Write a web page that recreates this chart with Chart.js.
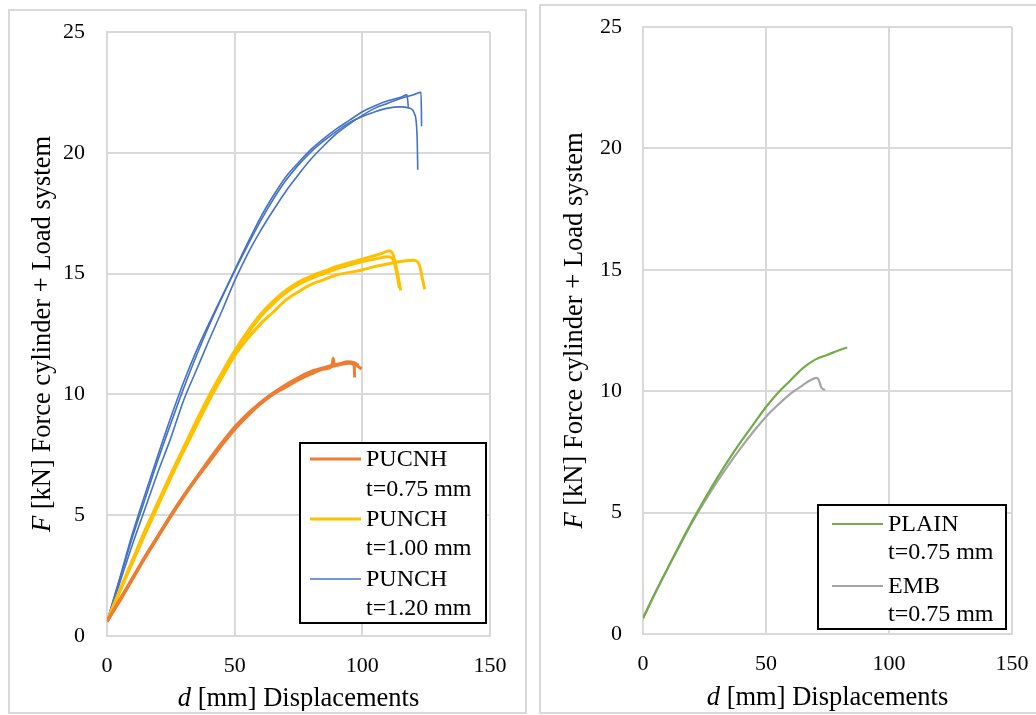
<!DOCTYPE html>
<html>
<head>
<meta charset="utf-8">
<script src="https://cdn.jsdelivr.net/npm/chart.js@4.4.1/dist/chart.umd.min.js"></script>
<style>
  html, body { margin: 0; padding: 0; background: #fff; width: 1036px; height: 715px; overflow: hidden; position: relative; }
  .panel { position: absolute; box-sizing: border-box; border: 2px solid #d9d9d9; background: #fff; }
  canvas { position: absolute; }
</style>
</head>
<body>
<div class="panel" style="left:8px;top:9px;width:519px;height:705px"></div>
<div class="panel" style="left:539px;top:4px;width:510px;height:710px"></div>
<canvas id="chartPunched" width="514" height="700" style="left:10px;top:11px;width:514px;height:700px"></canvas>
<canvas id="chartPlain" width="494" height="705" style="left:542px;top:6px;width:494px;height:705px"></canvas>
<script>
// ---- Axis ticks ----
const xTicks = [0, 50, 100, 150];
const yTicks = [0, 5, 10, 15, 20, 25];

// ---- Series labels ----
const leftLabels = [['PUCNH', 't=0.75 mm'], ['PUNCH', 't=1.00 mm'], ['PUNCH', 't=1.20 mm']];
const rightLabels = [['PLAIN', 't=0.75 mm'], ['EMB', 't=0.75 mm']];

// ---- PUCNH t=0.75 mm (three specimens): displacement [mm], force [kN] ----
const pucnh1D = [0,5,10,15,20,25,30,35,40,45,50,55,60,65,70,75,80,85,88,90,93,95,97,99.7];
const pucnh1F = [0.6,1.5,2.4,3.3,4.15,5.0,5.8,6.55,7.25,7.95,8.6,9.15,9.65,10.05,10.35,10.65,10.9,11.1,11.2,11.25,11.3,11.3,11.25,11.05];
const pucnh2D = [0,5,10,15,20,25,30,35,40,45,50,55,60,65,70,75,80,85,88,88.6,89,92,95,96.8,97];
const pucnh2F = [0.6,1.45,2.35,3.25,4.1,4.95,5.75,6.5,7.2,7.9,8.55,9.1,9.6,10.0,10.3,10.6,10.85,11.05,11.15,11.5,11.2,11.25,11.3,11.2,10.7];
const pucnh3D = [0,5,10,15,20,25,30,35,40,45,50,55,60,65,70,75,80,85,90,94,97,98.5];
const pucnh3F = [0.6,1.5,2.4,3.3,4.15,5.0,5.8,6.55,7.3,8.0,8.65,9.2,9.65,10.05,10.4,10.7,10.95,11.1,11.2,11.35,11.3,11.2];

// ---- PUNCH t=1.00 mm (three specimens) ----
const punch100aD = [0,5,10,15,20,25,30,35,40,45,50,55,60,65,70,75,80,85,90,95,100,105,108,110.5,112,113,114,115];
const punch100aF = [0.6,1.9,3.15,4.4,5.55,6.7,7.8,8.9,9.95,10.9,11.8,12.6,13.3,13.85,14.3,14.65,14.9,15.1,15.3,15.45,15.6,15.75,15.85,15.95,15.8,15.4,14.9,14.3];
const punch100bD = [0,5,10,15,20,25,30,35,40,45,50,55,60,65,70,75,80,85,90,95,100,105,110,112,113.5,114.5];
const punch100bF = [0.6,1.85,3.1,4.35,5.5,6.65,7.75,8.85,9.9,10.85,11.75,12.5,13.2,13.75,14.2,14.55,14.8,15.0,15.2,15.35,15.5,15.6,15.7,15.6,15.0,14.4];
const punch100cD = [0,5,10,15,20,25,30,35,40,45,50,55,60,65,70,75,80,85,90,95,100,105,110,115,120,121.5,122.5,123.5,124.4];
const punch100cF = [0.6,1.85,3.05,4.25,5.4,6.55,7.65,8.7,9.75,10.7,11.6,12.3,12.9,13.4,13.9,14.25,14.55,14.75,14.95,15.05,15.15,15.3,15.4,15.5,15.55,15.5,15.3,14.8,14.35];

// ---- PUNCH t=1.20 mm (three specimens) ----
const punch120aD = [0,5,10,15,20,25,30,35,40,45,50,55,60,65,70,75,80,85,90,95,100,105,110,115,117.5,118];
const punch120aF = [0.6,2.4,4.25,5.9,7.5,9.05,10.5,11.8,12.95,14.05,15.15,16.25,17.3,18.2,19.0,19.6,20.15,20.6,21.0,21.35,21.7,21.95,22.15,22.3,22.4,21.9];
const punch120bD = [0,5,10,15,20,25,30,35,40,45,50,55,60,65,70,75,80,85,90,95,100,105,110,115,120,123,123.2];
const punch120bF = [0.6,2.2,3.8,5.3,6.8,8.2,9.75,11.0,12.25,13.45,14.7,15.8,16.75,17.6,18.4,19.1,19.75,20.3,20.8,21.2,21.55,21.85,22.05,22.25,22.4,22.5,21.1];
const punch120cD = [0,5,10,15,20,25,30,35,40,45,50,55,60,65,70,75,80,85,90,95,100,105,110,115,118.5,120.5,121.5,121.7];
const punch120cF = [0.6,2.35,4.1,5.7,7.3,8.8,10.25,11.6,12.85,14.0,15.1,16.15,17.15,18.05,18.85,19.5,20.05,20.5,20.9,21.25,21.5,21.7,21.85,21.9,21.85,21.6,20.5,19.3];

// ---- PLAIN and EMB, t=0.75 mm ----
const plainD = [0,5,10,15,20,25,30,35,40,45,50,55,60,65,70,75,80,83];
const plainF = [0.65,1.7,2.7,3.7,4.65,5.55,6.4,7.2,7.95,8.65,9.35,9.95,10.45,10.95,11.3,11.5,11.7,11.8];
const embD = [0,5,10,15,20,25,30,35,40,45,50,55,60,65,68,70.5,71.5,72.5,74];
const embF = [0.65,1.7,2.7,3.65,4.6,5.45,6.25,7.0,7.7,8.35,8.95,9.45,9.9,10.25,10.45,10.55,10.45,10.15,10.05];

// ---- Colours ----
const cOrange = '#ED7D31', cYellow = '#FFC000', cBlue = '#4472C4', cGreen = '#70AD47', cGray = '#A5A5A5';
const SERIF = '"Liberation Serif", "Times New Roman", serif';

function pts(xs, ys) { return xs.map((x, i) => ({ x: x, y: ys[i] })); }
function series(xs, ys, color, width) {
  return { data: pts(xs, ys), borderColor: color, backgroundColor: color, borderWidth: width,
           showLine: true, pointRadius: 0, cubicInterpolationMode: 'monotone', fill: false };
}

// Writes a run of text pieces (some italic) centred on cx.
function drawMixed(ctx, parts, size, cx, y) {
  const fonts = parts.map(p => (p.italic ? 'italic ' : '') + size + 'px ' + SERIF);
  let total = 0;
  const widths = parts.map((p, i) => { ctx.font = fonts[i]; const w = ctx.measureText(p.text).width; total += w; return w; });
  let x = cx - total / 2;
  ctx.textAlign = 'left';
  ctx.textBaseline = 'alphabetic';
  parts.forEach((p, i) => { ctx.font = fonts[i]; ctx.fillText(p.text, x, y); x += widths[i]; });
}

// Axis titles and the boxed legend.
const panelDecor = {
  id: 'panelDecor',
  afterDraw(chart, args, opts) {
    const ctx = chart.ctx, a = chart.chartArea;
    ctx.save();
    ctx.fillStyle = '#000';
    // vertical title
    ctx.save();
    ctx.translate(opts.yTitleX, (a.top + a.bottom) / 2);
    ctx.rotate(-Math.PI / 2);
    drawMixed(ctx, [{ text: 'F', italic: true }, { text: ' [kN] Force cylinder + Load system' }], 26.5, 0, 0);
    ctx.restore();
    // horizontal title
    drawMixed(ctx, [{ text: 'd', italic: true }, { text: ' [mm] Displacements' }], 26.5, (a.left + a.right) / 2, a.bottom + opts.xTitleDy);
    // legend
    const L = opts.legend;
    ctx.fillStyle = '#fff';
    ctx.fillRect(L.x, L.y, L.w, L.h);
    ctx.strokeStyle = '#000';
    ctx.lineWidth = 2;
    ctx.strokeRect(L.x, L.y, L.w, L.h);
    L.entries.forEach((e) => {
      ctx.strokeStyle = e.color;
      ctx.lineWidth = e.width;
      ctx.beginPath();
      ctx.moveTo(L.x + L.lineX0, L.y + e.rows[0]);
      ctx.lineTo(L.x + L.lineX1, L.y + e.rows[0]);
      ctx.stroke();
      ctx.fillStyle = '#000';
      ctx.font = '24px ' + SERIF;
      ctx.textAlign = 'left';
      ctx.textBaseline = 'middle';
      e.text.forEach((t, k) => ctx.fillText(t, L.x + L.textX, L.y + e.rows[k] + 1));
    });
    ctx.restore();
  }
};

function makeOptions(plotLeft, topPad, rightPad, xAxisHeight, yPad, decor) {
  return {
    responsive: false,
    animation: false,
    layout: { padding: { left: 0, top: topPad, right: rightPad, bottom: 0 } },
    plugins: { legend: { display: false }, tooltip: { enabled: false }, panelDecor: decor },
    scales: {
      x: {
        type: 'linear', min: xTicks[0], max: xTicks[xTicks.length - 1],
        afterBuildTicks: s => { s.ticks = xTicks.map(v => ({ value: v })); },
        afterFit: s => { s.height = xAxisHeight; s.paddingLeft = 0; s.paddingRight = 0; },
        grid: { color: '#d9d9d9', lineWidth: 2, drawTicks: false },
        border: { display: true, color: '#d9d9d9', width: 2 },
        ticks: { color: '#000', font: { family: SERIF, size: 22 }, padding: 17, maxRotation: 0 }
      },
      y: {
        type: 'linear', min: yTicks[0], max: yTicks[yTicks.length - 1],
        afterBuildTicks: s => { s.ticks = yTicks.map(v => ({ value: v })); },
        afterFit: s => { s.width = plotLeft; s.paddingTop = 0; s.paddingBottom = 0; },
        grid: { color: '#d9d9d9', lineWidth: 2, drawTicks: false },
        border: { display: true, color: '#d9d9d9', width: 2 },
        ticks: { color: '#000', font: { family: SERIF, size: 22 }, padding: yPad }
      }
    }
  };
}

new Chart(document.getElementById('chartPunched'), {
  type: 'scatter',
  data: {
    datasets: [
      series(pucnh1D, pucnh1F, cOrange, 3),
      series(pucnh2D, pucnh2F, cOrange, 3),
      series(pucnh3D, pucnh3F, cOrange, 3),
      series(punch100aD, punch100aF, cYellow, 3),
      series(punch100bD, punch100bF, cYellow, 3),
      series(punch100cD, punch100cF, cYellow, 3),
      series(punch120aD, punch120aF, cBlue, 1.6),
      series(punch120bD, punch120bF, cBlue, 1.6),
      series(punch120cD, punch120cF, cBlue, 1.6)
    ]
  },
  options: makeOptions(97, 21, 34, 75, 22, {
    yTitleX: 40, xTitleDy: 70,
    legend: {
      x: 290, y: 432, w: 186, h: 180, lineX0: 10, lineX1: 61, textX: 66,
      entries: [
        { color: cOrange, width: 3, text: leftLabels[0], rows: [16, 46] },
        { color: cYellow, width: 3, text: leftLabels[1], rows: [76, 105] },
        { color: cBlue, width: 1.6, text: leftLabels[2], rows: [136, 165] }
      ]
    }
  }),
  plugins: [panelDecor]
});

new Chart(document.getElementById('chartPlain'), {
  type: 'scatter',
  data: {
    datasets: [
      series(plainD, plainF, cGreen, 2.2),
      series(embD, embF, cGray, 2.2)
    ]
  },
  options: makeOptions(101, 21, 24, 77, 21, {
    yTitleX: 40, xTitleDy: 71,
    legend: {
      x: 276, y: 499, w: 188, h: 124, lineX0: 14, lineX1: 65, textX: 70,
      entries: [
        { color: cGreen, width: 2.2, text: rightLabels[0], rows: [19, 47] },
        { color: cGray, width: 2.2, text: rightLabels[1], rows: [81, 109] }
      ]
    }
  }),
  plugins: [panelDecor]
});
</script>
</body>
</html>
